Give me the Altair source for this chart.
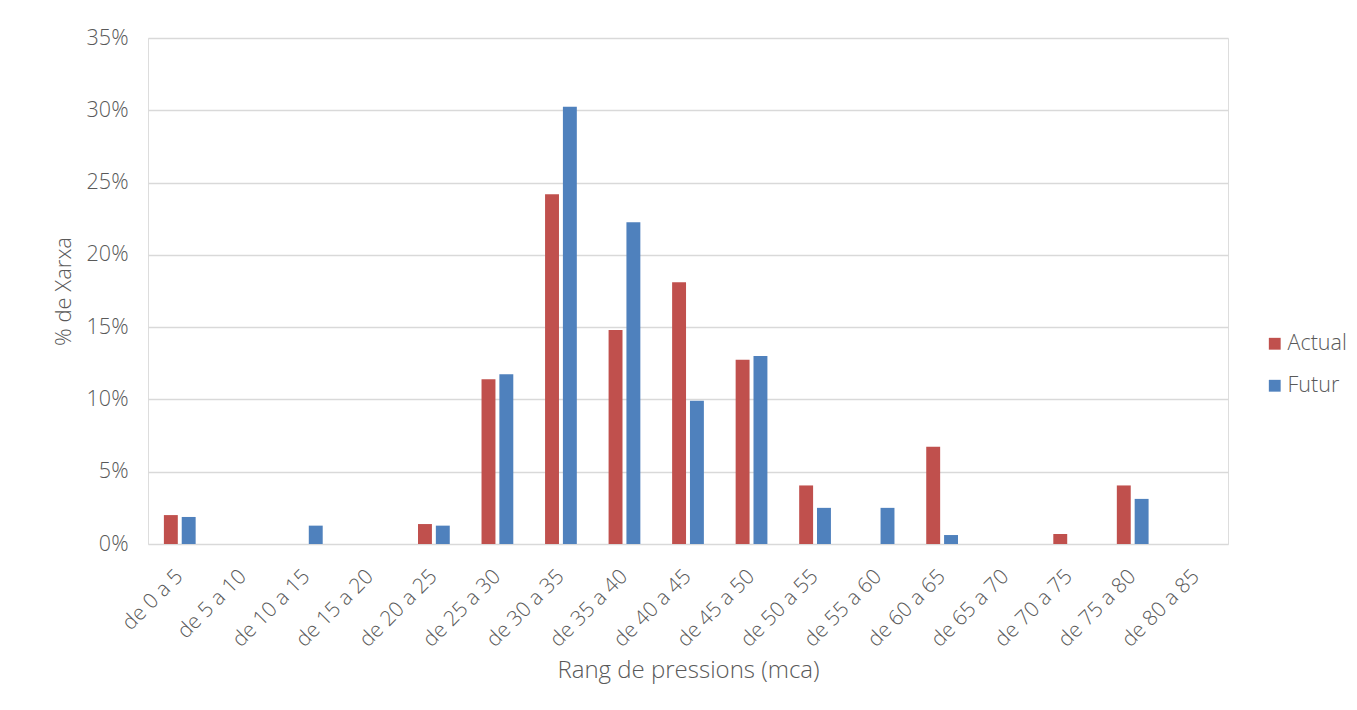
import altair as alt
import pandas as pd

categories = ["de 0 a 5", "de 5 a 10", "de 10 a 15", "de 15 a 20", "de 20 a 25",
              "de 25 a 30", "de 30 a 35", "de 35 a 40", "de 40 a 45", "de 45 a 50",
              "de 50 a 55", "de 55 a 60", "de 60 a 65", "de 65 a 70", "de 70 a 75",
              "de 75 a 80", "de 80 a 85"]
actual = [2.0, 0, 0, 0, 1.38, 11.4, 24.2, 14.8, 18.1, 12.75, 4.05, 0, 6.73, 0, 0.69, 4.05, 0]
futur = [1.87, 0, 1.27, 0, 1.27, 11.75, 30.25, 22.25, 9.9, 13.0, 2.5, 2.5, 0.62, 0, 0, 3.12, 0]
series = ["Actual", "Futur"]
colors = ["#C0504D", "#4F81BD"]

rows = []
for c, a, f in zip(categories, actual, futur):
    rows.append({"cat": c, "serie": "Actual", "val": a / 100})
    rows.append({"cat": c, "serie": "Futur", "val": f / 100})
df = pd.DataFrame(rows)

font = "Open Sans"
gray = "#595959"

chart = alt.Chart(df).mark_bar().encode(
    x=alt.X("cat:N", sort=categories,
            scale=alt.Scale(paddingInner=0.5, paddingOuter=0.25),
            axis=alt.Axis(title="Rang de pressions (mca)", labelAngle=-45, labelAlign="right",
                          labelBaseline="middle", labelPadding=29, ticks=False, domain=False,
                          labelFontSize=21, labelColor=gray, titleFontSize=24,
                          titleColor=gray, titleFontWeight=300, titlePadding=8,
                          labelFontWeight=300, grid=False)),
    xOffset=alt.XOffset("serie:N", sort=series,
                        scale=alt.Scale(paddingInner=0.22, paddingOuter=0)),
    y=alt.Y("val:Q", scale=alt.Scale(domain=[0, 0.35]),
            axis=alt.Axis(title="% de Xarxa", format=".0%", values=[0, 0.05, 0.1, 0.15, 0.2, 0.25, 0.3, 0.35],
                          ticks=False, domain=False, labelPadding=20,
                          labelFontSize=21.5, labelColor=gray, titleFontSize=22,
                          titleColor=gray, titleFontWeight=300, titlePadding=11,
                          labelFontWeight=300, gridColor="#d9d9d9", gridWidth=1.5)),
    color=alt.Color("serie:N", sort=series, scale=alt.Scale(domain=series, range=colors),
                    legend=alt.Legend(title=None, orient="none", legendX=1116, legendY=295,
                                      symbolType="square", symbolSize=140, symbolStrokeWidth=0,
                                      labelFontSize=21.5, labelColor=gray, labelFontWeight=300,
                                      rowPadding=19, labelOffset=2)),
).properties(
    width=1080, height=506,
    autosize=alt.AutoSizeParams(type="none"),
    padding={"left": 140, "top": 30, "right": 120, "bottom": 150},
).configure_view(stroke=None).configure(font=font)

chart.save("out.html", embed_options={"renderer": "svg", "actions": False})
